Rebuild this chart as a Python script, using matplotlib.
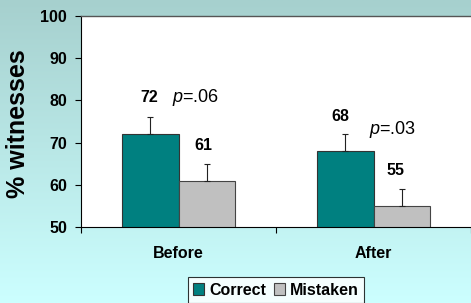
import numpy as np
import matplotlib
matplotlib.use("Agg")
import matplotlib.pyplot as plt
from matplotlib.patches import Patch

# data
groups = ["Before", "After"]
correct = [72, 68]
mistaken = [61, 55]
err_correct = [4, 4]
err_mistaken = [4, 4]
p_labels = ["=.06", "=.03"]

plt.rcParams['font.family'] = ['Liberation Sans', 'DejaVu Sans']
plt.rcParams['mathtext.fontset'] = 'custom'
plt.rcParams['mathtext.it'] = 'Liberation Sans:italic'
plt.rcParams['mathtext.rm'] = 'Liberation Sans'

fig = plt.figure(figsize=(4.71, 3.03), dpi=100)

# gradient background
bg = fig.add_axes([0, 0, 1, 1], zorder=-10)
top = np.array([166, 208, 206]) / 255
bot = np.array([204, 255, 255]) / 255
t = np.linspace(0, 1, 256)[:, None]
grad = (top * (1 - t) + bot * t)[:, None, :]
bg.imshow(grad, aspect='auto', extent=[0, 1, 0, 1])
bg.axis('off')

ax = fig.add_axes([81 / 471, 1 - 227 / 303, 1 - 81 / 471, (227 - 16) / 303])
ax.set_facecolor('white')

x = np.arange(len(groups))
w = 0.29
off = 0.145
ekw = dict(ecolor='#222222', elinewidth=0.8, capsize=2.5, capthick=0.8)
ax.bar(x - off, correct, w, color='#008080', edgecolor='#333333', linewidth=0.8,
       yerr=[[0, 0], err_correct], error_kw=ekw)
ax.bar(x + off, mistaken, w, color='#c0c0c0', edgecolor='#444444', linewidth=0.8,
       yerr=[[0, 0], err_mistaken], error_kw=ekw)

ax.set_ylim(50, 100)
ax.set_xlim(-0.5, 1.48)
ax.set_yticks([50, 60, 70, 80, 90, 100])
ax.tick_params(axis='y', direction='out', length=4, width=0.8, pad=6, labelsize=11.5)
for lab in ax.get_yticklabels():
    lab.set_fontweight('bold')

ax.set_xticks([-0.5, 0.5, 1.5])
ax.set_xticklabels([])
ax.tick_params(axis='x', which='major', direction='out', length=4, width=0.8)
ax.set_xticks(x, minor=True)
ax.set_xticklabels(groups, minor=True, fontweight='bold', fontsize=11.5)
ax.tick_params(axis='x', which='minor', length=0, pad=14)

ax.spines['right'].set_visible(False)
ax.spines['top'].set_color('#555555')
ax.spines['top'].set_linewidth(1.0)
ax.spines['left'].set_linewidth(0.8)
ax.spines['bottom'].set_linewidth(0.8)

ax.set_ylabel('% witnesses', fontsize=18, fontweight='bold')
ax.yaxis.set_label_coords(-0.131, 0.488)

# value labels
ax.text(-0.15, 80.6, str(correct[0]), ha='center', va='center', fontsize=11.5, fontweight='bold')
ax.text(0.13, 69.4, str(mistaken[0]), ha='center', va='center', fontsize=11.5, fontweight='bold')
ax.text(0.83, 76.1, str(correct[1]), ha='center', va='center', fontsize=11.5, fontweight='bold')
ax.text(1.114, 63.3, str(mistaken[1]), ha='center', va='center', fontsize=11.5, fontweight='bold')
ax.text(-0.033, 80.6, r'$\mathit{p}$' + p_labels[0], ha='left', va='center', fontsize=13)
ax.text(0.977, 73.0, r'$\mathit{p}$' + p_labels[1], ha='left', va='center', fontsize=13)

handles = [Patch(facecolor='#008080', edgecolor='#333333', linewidth=0.8),
           Patch(facecolor='#c0c0c0', edgecolor='#444444', linewidth=0.8)]
leg = fig.legend(handles, ['Correct', 'Mistaken'], loc='upper center',
                 bbox_to_anchor=(276 / 471, 1 - 277 / 303), ncol=2, frameon=True,
                 fancybox=False, handlelength=0.7, handleheight=0.7, handletextpad=0.3,
                 columnspacing=0.5, borderpad=0.35, borderaxespad=0,
                 prop=dict(weight='bold', size=11.5))
leg.get_frame().set_edgecolor('black')
leg.get_frame().set_linewidth(0.8)

fig.savefig('out.png', dpi=100)
